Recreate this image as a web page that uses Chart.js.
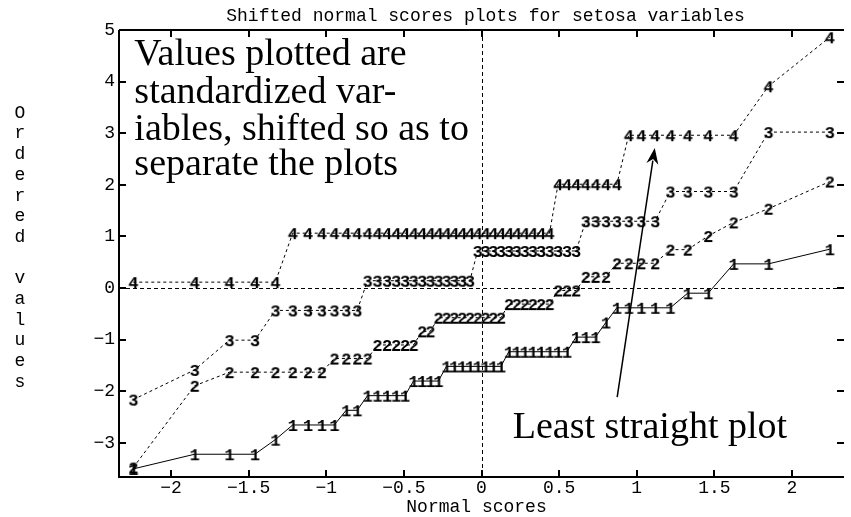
<!DOCTYPE html>
<html><head><meta charset="utf-8">
<script src="https://cdn.jsdelivr.net/npm/chart.js@4.4.0/dist/chart.umd.min.js"></script>
<style>html,body{margin:0;padding:0;background:#fff}canvas{display:block}</style>
</head><body>
<canvas id="c" width="851" height="517"></canvas>
<script>
// Normal scores (x) shared by all four plots
const normalScores = [
 -2.243,-1.848,-1.624,-1.460,-1.328,-1.216,-1.118,-1.029,-0.948,-0.872,
 -0.801,-0.734,-0.671,-0.609,-0.550,-0.493,-0.438,-0.383,-0.330,-0.278,
 -0.226,-0.176,-0.125,-0.075,-0.025, 0.025, 0.075, 0.125, 0.176, 0.226,
  0.278, 0.330, 0.383, 0.438, 0.493, 0.550, 0.609, 0.671, 0.734, 0.801,
  0.872, 0.948, 1.029, 1.118, 1.216, 1.328, 1.460, 1.624, 1.848, 2.243];
// Ordered, standardized and shifted values
const series1 = [
 -3.503,-3.219,-3.219,-3.219,-2.936,-2.652,-2.652,-2.652,-2.652,-2.368,
 -2.368,-2.084,-2.084,-2.084,-2.084,-2.084,-1.801,-1.801,-1.801,-1.801,
 -1.517,-1.517,-1.517,-1.517,-1.517,-1.517,-1.517,-1.517,-1.233,-1.233,
 -1.233,-1.233,-1.233,-1.233,-1.233,-1.233,-0.950,-0.950,-0.950,-0.666,
 -0.382,-0.382,-0.382,-0.382,-0.382,-0.099,-0.099, 0.469, 0.469, 0.753];
const series2 = [
 -3.476,-1.893,-1.629,-1.629,-1.629,-1.629,-1.629,-1.629,-1.365,-1.365,
 -1.365,-1.365,-1.102,-1.102,-1.102,-1.102,-1.102,-0.838,-0.838,-0.574,
 -0.574,-0.574,-0.574,-0.574,-0.574,-0.574,-0.574,-0.574,-0.310,-0.310,
 -0.310,-0.310,-0.310,-0.310,-0.046,-0.046,-0.046, 0.218, 0.218, 0.218,
  0.481, 0.481, 0.481, 0.481, 0.745, 0.745, 1.009, 1.273, 1.537, 2.064];
const series3 = [
 -2.160,-1.585,-1.009,-1.009,-0.433,-0.433,-0.433,-0.433,-0.433,-0.433,
 -0.433, 0.143, 0.143, 0.143, 0.143, 0.143, 0.143, 0.143, 0.143, 0.143,
  0.143, 0.143, 0.143, 0.143, 0.719, 0.719, 0.719, 0.719, 0.719, 0.719,
  0.719, 0.719, 0.719, 0.719, 0.719, 0.719, 0.719, 1.295, 1.295, 1.295,
  1.295, 1.295, 1.295, 1.295, 1.871, 1.871, 1.871, 1.871, 3.022, 3.022];
const series4 = [
  0.115, 0.115, 0.115, 0.115, 0.115, 1.064, 1.064, 1.064, 1.064, 1.064,
  1.064, 1.064, 1.064, 1.064, 1.064, 1.064, 1.064, 1.064, 1.064, 1.064,
  1.064, 1.064, 1.064, 1.064, 1.064, 1.064, 1.064, 1.064, 1.064, 1.064,
  1.064, 1.064, 1.064, 1.064, 2.012, 2.012, 2.012, 2.012, 2.012, 2.012,
  2.012, 2.961, 2.961, 2.961, 2.961, 2.961, 2.961, 2.961, 3.910, 4.859];
const seriesDigits = ['1','2','3','4'];
const chartTitle = 'Shifted normal scores plots for setosa variables';
const xAxisTitle = 'Normal scores';
const yAxisTitle = 'Ordered values';
const noteLines = ['Values plotted are','standardized var-','iables, shifted so as to','separate the plots'];
const arrowNote = 'Least straight plot';

// layout / annotation placement (in data units)
const notePlace = {x:-2.236, y:[4.32,3.585,2.87,2.19]};
const arrowNotePlace = {x:0.201, y:-2.907};
const arrowPlace = {x0:0.874, y0:-2.112, x1:1.116, y1:2.713};

const MONO = '"Liberation Mono", "DejaVu Sans Mono", monospace';
const SERIF = '"Liberation Serif", "DejaVu Serif", serif';

function digitImage(d){
  const c = document.createElement('canvas');
  c.width = 14; c.height = 20;
  const g = c.getContext('2d');
  g.fillStyle = '#000';
  g.font = 'bold 17px ' + MONO;
  g.textAlign = 'center';
  g.textBaseline = 'alphabetic';
  g.fillText(d, 7, 16);
  return c;
}

const allSeries = [series1, series2, series3, series4];
const datasets = allSeries.map((s, k) => ({
  label: seriesDigits[k],
  data: normalScores.map((x, i) => ({x: x, y: s[i]})),
  borderColor: '#000',
  borderWidth: 1,
  borderDash: k === 0 ? [] : [3, 3],
  pointStyle: digitImage(seriesDigits[k]),
  pointRadius: 6,
  pointHoverRadius: 6,
  showLine: true,
  tension: 0,
  fill: false,
  clip: 10
}));

const minus = v => String(v).replace('-', '\u2212');

const decor = {
  id: 'decor',
  beforeDatasetsDraw(chart){
    const {ctx, chartArea: a, scales: {x, y}} = chart;
    ctx.save();
    ctx.strokeStyle = '#000'; ctx.lineWidth = 1; ctx.setLineDash([4, 3]);
    const x0 = Math.round(x.getPixelForValue(0)) + 0.5;
    const y0 = Math.round(y.getPixelForValue(0)) + 0.5;
    ctx.beginPath();
    ctx.moveTo(a.left, y0); ctx.lineTo(a.right, y0);
    ctx.moveTo(x0, a.top); ctx.lineTo(x0, a.bottom);
    ctx.stroke();
    ctx.restore();
  },
  afterDraw(chart){
    const {ctx, chartArea: a, scales: {x, y}} = chart;
    ctx.save();
    ctx.strokeStyle = '#000'; ctx.fillStyle = '#000';
    // frame
    ctx.lineWidth = 2;
    ctx.beginPath();
    ctx.moveTo(a.left, a.top); ctx.lineTo(a.right, a.top);
    ctx.moveTo(a.left, a.top); ctx.lineTo(a.left, a.bottom);
    ctx.moveTo(a.left - 1, a.bottom); ctx.lineTo(a.right, a.bottom);
    ctx.stroke();
    // inward ticks
    const TL = 7;
    ctx.beginPath();
    x.ticks.forEach(t => {
      const px = Math.round(x.getPixelForValue(t.value));
      ctx.moveTo(px, a.bottom); ctx.lineTo(px, a.bottom - TL);
      ctx.moveTo(px, a.top); ctx.lineTo(px, a.top + TL);
    });
    y.ticks.forEach(t => {
      const py = Math.round(y.getPixelForValue(t.value));
      ctx.moveTo(a.left, py); ctx.lineTo(a.left + TL, py);
      ctx.moveTo(a.right, py); ctx.lineTo(a.right - TL, py);
    });
    ctx.stroke();
    // title
    ctx.font = '18px ' + MONO;
    ctx.textAlign = 'center'; ctx.textBaseline = 'middle';
    ctx.fillText(chartTitle, (a.left + a.right) / 2 + 4, 16);
    // x title
    ctx.fillText(xAxisTitle, (a.left + a.right) / 2 - 5, 507);
    // y title stacked
    const ch = yAxisTitle.split('');
    ch.forEach((c, i) => { if (c !== ' ') ctx.fillText(c, 20, 113 + i * 20.7); });
    // notes
    ctx.font = '38px ' + SERIF;
    ctx.textAlign = 'left'; ctx.textBaseline = 'alphabetic';
    const nx = x.getPixelForValue(notePlace.x);
    noteLines.forEach((s, i) => ctx.fillText(s, nx, y.getPixelForValue(notePlace.y[i])));
    ctx.fillText(arrowNote, x.getPixelForValue(arrowNotePlace.x), y.getPixelForValue(arrowNotePlace.y));
    // arrow
    const ax0 = x.getPixelForValue(arrowPlace.x0), ay0 = y.getPixelForValue(arrowPlace.y0);
    const ax1 = x.getPixelForValue(arrowPlace.x1), ay1 = y.getPixelForValue(arrowPlace.y1);
    const ang = Math.atan2(ay1 - ay0, ax1 - ax0);
    const HL = 16, HW = 6;
    ctx.lineWidth = 1.5;
    ctx.beginPath();
    ctx.moveTo(ax0, ay0);
    ctx.lineTo(ax1 - HL * 0.8 * Math.cos(ang), ay1 - HL * 0.8 * Math.sin(ang));
    ctx.stroke();
    ctx.beginPath();
    ctx.moveTo(ax1, ay1);
    ctx.lineTo(ax1 - HL * Math.cos(ang) + HW * Math.sin(ang), ay1 - HL * Math.sin(ang) - HW * Math.cos(ang));
    ctx.lineTo(ax1 - HL * 0.7 * Math.cos(ang), ay1 - HL * 0.7 * Math.sin(ang));
    ctx.lineTo(ax1 - HL * Math.cos(ang) - HW * Math.sin(ang), ay1 - HL * Math.sin(ang) + HW * Math.cos(ang));
    ctx.closePath();
    ctx.fill();
    ctx.restore();
  }
};

new Chart(document.getElementById('c'), {
  type: 'scatter',
  data: {datasets: datasets},
  options: {
    responsive: false,
    animation: false,
    devicePixelRatio: 1,
    layout: {padding: {top: 30, right: 0, bottom: 0, left: 0}},
    plugins: {legend: {display: false}, tooltip: {enabled: false}, title: {display: false}},
    scales: {
      x: {
        type: 'linear', min: -2.335, max: 2.335,
        grid: {display: false, drawTicks: false},
        border: {display: false},
        ticks: {stepSize: 0.5, includeBounds: false, maxRotation: 0, autoSkip: false,
                color: '#000', font: {family: MONO, size: 18}, padding: 0,
                callback: v => minus(v)},
        afterFit: s => { s.height = 40; }
      },
      y: {
        type: 'linear', min: -3.66, max: 5,
        grid: {display: false, drawTicks: false},
        border: {display: false},
        ticks: {stepSize: 1, includeBounds: false, autoSkip: false,
                color: '#000', font: {family: MONO, size: 18}, padding: 4,
                callback: v => minus(v)},
        afterFit: s => { s.width = 119; }
      }
    }
  },
  plugins: [decor]
});
</script>
</body></html>
